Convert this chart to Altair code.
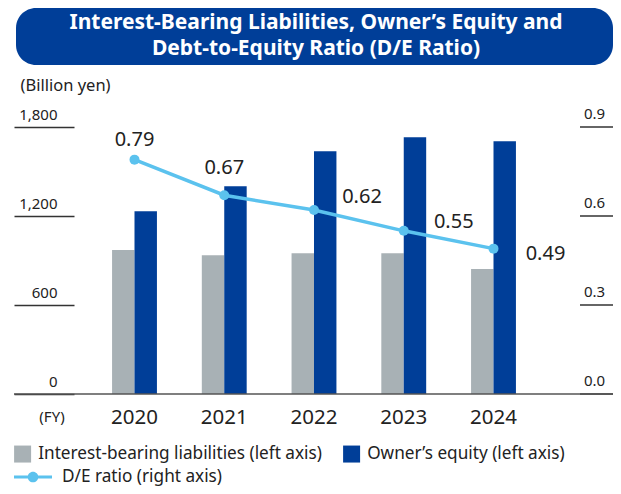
import altair as alt
import pandas as pd

# ---- data ----
years = [2020, 2021, 2022, 2023, 2024]
liabilities = [970, 936, 949, 949, 842]
equity = [1232, 1401, 1636, 1731, 1704]
de_ratio = [0.79, 0.67, 0.62, 0.55, 0.49]
right_ticks = [0.0, 0.3, 0.6, 0.9]

S_LIAB = "Interest-bearing liabilities (left axis)"
S_EQ = "Owner\u2019s equity (left axis)"
S_DE = "D/E ratio (right axis)"
title_lines = ["Interest-Bearing Liabilities, Owner\u2019s Equity and",
               "Debt-to-Equity Ratio (D/E Ratio)"]

# ---- styles ----
GRAY = "#A8B1B5"
BLUE = "#003E98"
LIGHT = "#5BC2EE"
TXT = "#222222"
AXC = "#333333"
FONT = "Noto Sans"
W, H = 599, 267

bars_df = pd.DataFrame(
    [{"year": y, "series": S_LIAB, "value": v} for y, v in zip(years, liabilities)]
    + [{"year": y, "series": S_EQ, "value": v} for y, v in zip(years, equity)]
)
de_df = pd.DataFrame({"year": years, "de": de_ratio})
rt_df = pd.DataFrame({"t": right_ticks})

x_scale = alt.Scale(domain=[2018.6574, 2025.3315], nice=False, zero=False)
y_left = alt.Scale(domain=[0, 1800], nice=False)
y_right = alt.Scale(domain=[0, 0.9], nice=False)

left_axis = alt.Axis(
    orient="left", values=[0, 600, 1200, 1800], format=",d", offset=-60,
    tickSize=60, tickColor=AXC, tickWidth=1.3, domain=False, grid=False,
    labelPadding=-43, labelAlign="right", labelBaseline="alphabetic", labelOffset=-8,
    labelFontSize=15, labelColor=TXT, labelFont=FONT,
    title="(Billion yen)", titleX=-54, titleY=-37, titleAngle=0, titleAlign="left",
    titleBaseline="alphabetic", titleFontSize=16.5, titleFontWeight="normal",
    titleColor=TXT, titleFont=FONT,
)

one = alt.Data(values=[{}])

title_box = alt.Chart(one).mark_rect(color=BLUE, cornerRadius=20).encode(
    x=alt.value(2), x2=alt.value(599), y=alt.value(-119), y2=alt.value(-62)
)
title_t1 = alt.Chart(one).mark_text(
    text=title_lines[0], color="white", font=FONT, fontSize=21, fontWeight="bold",
    align="center", baseline="alphabetic"
).encode(x=alt.value(302), y=alt.value(-98))
title_t2 = alt.Chart(one).mark_text(
    text=title_lines[1], color="white", font=FONT, fontSize=21, fontWeight="bold",
    align="center", baseline="alphabetic"
).encode(x=alt.value(302), y=alt.value(-72))

bars = alt.Chart(bars_df).transform_calculate(
    x0=f"datum.series == '{S_EQ}' ? datum.year : datum.year - 0.25",
    x1=f"datum.series == '{S_EQ}' ? datum.year + 0.25 : datum.year",
).mark_rect().encode(
    x=alt.X("x0:Q", scale=x_scale, axis=None),
    x2="x1:Q",
    y=alt.Y("value:Q", scale=y_left, axis=left_axis),
    y2=alt.datum(0),
    color=alt.Color(
        "series:N",
        scale=alt.Scale(domain=[S_LIAB, S_EQ], range=[GRAY, BLUE]),
        legend=alt.Legend(
            title=None, orient="none", legendX=0, legendY=318, direction="horizontal",
            columns=2, symbolType="square", symbolSize=289, symbolStrokeWidth=0,
            symbolOpacity=1, labelFontSize=17.2, labelFont=FONT, labelColor=TXT,
            labelOffset=7, columnPadding=21, padding=0, labelLimit=400,
        ),
    ),
)

# x axis: baseline, year labels and "(FY)"
baseline = alt.Chart(one).mark_rule(color="#555555", strokeWidth=1.6).encode(
    x=alt.value(0), x2=alt.value(W), y=alt.value(H)
)
year_labels = alt.Chart(de_df).mark_text(
    font=FONT, fontSize=20.5, color=TXT, align="center", baseline="alphabetic"
).encode(
    x=alt.X("year:Q", scale=x_scale, axis=None),
    y=alt.value(H + 30),
    text=alt.Text("year:Q", format="d"),
)
fy_text = alt.Chart(one).mark_text(
    text="(FY)", font=FONT, fontSize=15, color=TXT, align="center", baseline="alphabetic"
).encode(x=alt.value(38), y=alt.value(H + 28))

line = alt.Chart(de_df).mark_line(color=LIGHT, strokeWidth=3.5).encode(
    x=alt.X("year:Q", scale=x_scale, axis=None),
    y=alt.Y("de:Q", scale=y_right, axis=None),
)

LEG_PATH = ("M-1,-0.085L1,-0.085L1,0.085L-1,0.085Z"
            "M0.28,0A0.28,0.28,0,1,1,-0.28,0A0.28,0.28,0,1,1,0.28,0Z")

points = alt.Chart(de_df).transform_calculate(
    name=f"'{S_DE}'"
).mark_circle(size=100, opacity=1).encode(
    x=alt.X("year:Q", scale=x_scale, axis=None),
    y=alt.Y("de:Q", scale=y_right, axis=None),
    color=alt.Color(
        "name:N",
        scale=alt.Scale(domain=[S_DE], range=[LIGHT]),
        legend=alt.Legend(
            title=None, orient="none", legendX=0, legendY=331, symbolType=LEG_PATH,
            symbolSize=1444, symbolStrokeWidth=0, symbolOpacity=1, labelFontSize=17.2,
            labelFont=FONT, labelColor=TXT, labelOffset=10, padding=0, labelLimit=400,
        ),
    ),
)

# right axis: tick lines and labels placed through the right-hand scale
r_ticks = alt.Chart(rt_df).mark_rule(color=AXC, strokeWidth=1.3).encode(
    x=alt.value(566), x2=alt.value(W),
    y=alt.Y("t:Q", scale=y_right, axis=None),
)
r_labels = alt.Chart(rt_df).mark_text(
    font=FONT, fontSize=15, color=TXT, align="left", baseline="alphabetic", dy=-8
).encode(
    x=alt.value(570),
    y=alt.Y("t:Q", scale=y_right, axis=None),
    text=alt.Text("t:Q", format=".1f"),
)

# label offsets (style): (dx, dy) per point
label_offsets = [(0, -14), (0, -21), (48, -7), (50, -3), (52, 11)]
labels = []
for yr, (dx, dy) in zip(years, label_offsets):
    labels.append(
        alt.Chart(de_df).transform_filter(alt.datum.year == yr).mark_text(
            font=FONT, fontSize=20, color=TXT, align="center",
            baseline="alphabetic", dx=dx, dy=dy
        ).encode(
            x=alt.X("year:Q", scale=x_scale, axis=None),
            y=alt.Y("de:Q", scale=y_right, axis=None),
            text=alt.Text("de:Q", format=".2f"),
        )
    )

right_layer = alt.layer(r_ticks, r_labels, line, points, *labels)

chart = alt.layer(
    bars, right_layer, baseline, year_labels, fy_text, title_box, title_t1, title_t2
).resolve_scale(
    y="independent", color="independent"
).properties(
    width=W, height=H,
    autosize=alt.AutoSizeParams(type="none"),
    padding={"left": 6, "top": 119, "right": 0, "bottom": 92},
).configure(font=FONT).configure_view(stroke=None)

chart.save("out.html", embed_options={"renderer": "svg", "actions": False})
